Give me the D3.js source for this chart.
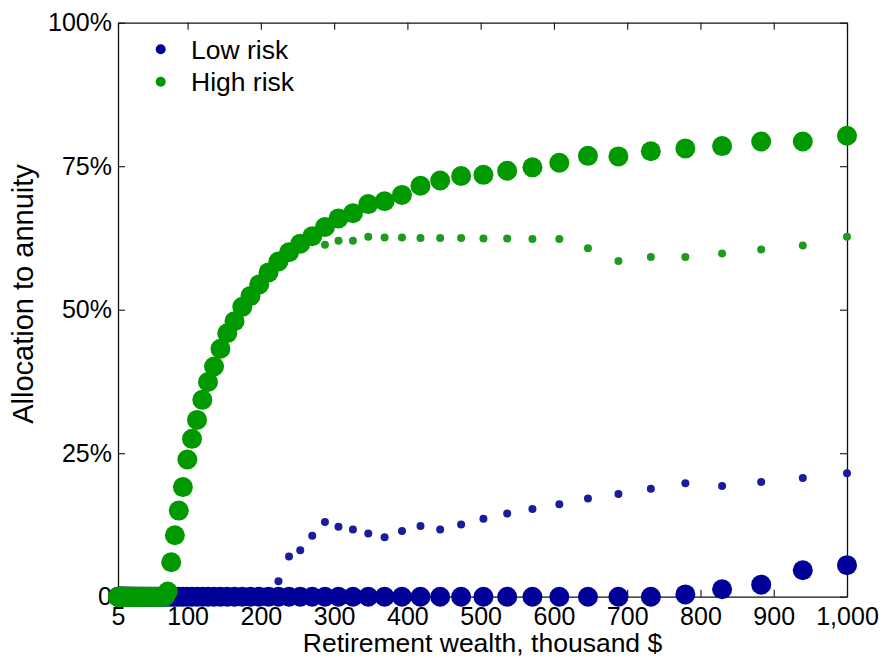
<html>
<head>
<meta charset="utf-8">
<title>Allocation to annuity</title>
<style>
  body { margin: 0; background: #fff; }
  svg text { font-family: "Liberation Sans", Arial, Helvetica, sans-serif; fill: #000; }
</style>
</head>
<body>
<svg id="chart" width="884" height="658"></svg>

<script src="https://d3js.org/d3.v7.min.js"></script>
<script>
// retirement wealth grid, thousand $
const wealth = [
  5.00, 5.32, 5.66, 6.03, 6.41, 6.83, 7.27, 7.73, 8.23, 8.76,
  9.33, 9.93, 10.56, 11.24, 11.97, 12.74, 13.56, 14.43, 15.36, 16.34,
  17.39, 18.51, 19.70, 20.97, 22.32, 23.75, 25.28, 26.91, 28.64, 30.48,
  32.44, 34.53, 36.75, 39.11, 41.63, 44.30, 47.15, 50.19, 53.41, 56.85,
  60.50, 64.39, 68.54, 72.94, 77.64, 82.63, 87.94, 93.60, 99.62, 106.02,
  112.85, 120.10, 127.83, 136.05, 144.80, 154.11, 164.03, 174.58, 185.81, 197.76,
  210.48, 224.02, 238.43, 253.76, 270.09, 287.46, 305.94, 325.62, 346.57, 368.86,
  392.59, 417.84, 444.72, 473.33, 503.77, 536.17, 570.66, 607.36, 646.43, 688.01,
  732.27, 779.38, 829.51, 882.87, 939.66, 1000
];

// allocation to annuity, %  (large markers)
const lowRiskLarge = [
  0, 0, 0, 0, 0, 0, 0, 0, 0, 0,
  0, 0, 0, 0, 0, 0, 0, 0, 0, 0,
  0, 0, 0, 0, 0, 0, 0, 0, 0, 0,
  0, 0, 0, 0, 0, 0, 0, 0, 0, 0,
  0, 0, 0, 0, 0, 0, 0, 0, 0, 0,
  0, 0, 0, 0, 0, 0, 0, 0, 0, 0,
  0, 0, 0, 0, 0, 0, 0, 0, 0, 0,
  0, 0, 0, 0, 0, 0, 0, 0, 0, 0,
  0, 0.4, 1.3, 2.1, 4.6, 5.5
];
const highRiskLarge = [
  0, 0, 0, 0, 0, 0, 0, 0, 0, 0,
  0, 0, 0, 0, 0, 0, 0, 0, 0, 0,
  0, 0, 0, 0, 0, 0, 0, 0, 0, 0,
  0, 0, 0, 0, 0, 0, 0, 0, 0, 0,
  0, 0, 0, 0.9, 6.0, 10.7, 15.0, 19.1, 23.9, 27.5,
  30.8, 34.3, 37.4, 40.1, 43.2, 45.9, 48.0, 50.5, 52.4, 54.4,
  56.5, 58.4, 60.0, 61.5, 62.8, 64.4, 65.9, 66.8, 68.4, 68.9,
  70.0, 71.6, 72.5, 73.3, 73.5, 74.2, 74.8, 75.6, 76.8, 76.7,
  77.6, 78.1, 78.5, 79.3, 79.3, 80.3
];

// allocation to annuity, %  (small markers)
const lowRiskSmall = [
  0, 0, 0, 0, 0, 0, 0, 0, 0, 0,
  0, 0, 0, 0, 0, 0, 0, 0, 0, 0,
  0, 0, 0, 0, 0, 0, 0, 0, 0, 0,
  0, 0, 0, 0, 0, 0, 0, 0, 0, 0,
  0, 0, 0, 0, 0, 0, 0, 0, 0, 0,
  0, 0, 0, 0, 0, 0, 0, 0, 0, 0,
  0, 2.7, 7.0, 8.1, 10.6, 13.0, 12.2, 11.7, 11.0, 10.35,
  11.45, 12.3, 11.7, 12.6, 13.6, 14.5, 15.3, 16.1, 17.1, 17.9,
  18.8, 19.75, 19.3, 20.0, 20.7, 21.5
];
const highRiskSmall = [
  0, 0, 0, 0, 0, 0, 0, 0, 0, 0,
  0, 0, 0, 0, 0, 0, 0, 0, 0, 0,
  0, 0, 0, 0, 0, 0, 0, 0, 0, 0,
  0, 0, 0, 0, 0, 0, 0, 0, 0, 0,
  0, 0, 0, 0.9, 6.0, 10.7, 15.0, 19.1, 23.9, 27.5,
  30.8, 34.3, 37.4, 40.1, 43.2, 45.9, 48.0, 50.5, 52.4, 54.4,
  56.5, 58.4, 60.0, 61.5, 62.8, 61.3, 62.0, 62.0, 62.7, 62.6,
  62.6, 62.5, 62.5, 62.5, 62.4, 62.4, 62.3, 62.3, 60.7, 58.5,
  59.2, 59.2, 59.8, 60.5, 61.2, 62.7
];

const xTicks = [5, 100, 200, 300, 400, 500, 600, 700, 800, 900, 1000];
const yTicks = [0, 25, 50, 75, 100];
const seriesNames = ["Low risk", "High risk"];

const svg = d3.select("#chart");
const plotLeft = 118, plotRight = 847, plotTop = 22.7, plotBottom = 596.7;

const x = d3.scaleLinear().domain([5, 1000]).range([plotLeft, plotRight]);
const y = d3.scaleLinear().domain([0, 100]).range([plotBottom, plotTop]);

const blue = "#000099", blueSmall = "#1b1b9b";
const green = "#009900", greenSmall = "#1e9a1e";

// box + inward ticks
function styleAxis(g, labels) {
  g.select(".domain").attr("stroke", "#111").attr("stroke-width", 1.3);
  g.selectAll(".tick line").attr("stroke", "#111").attr("stroke-width", 1.1);
  if (!labels) g.selectAll(".tick text").remove();
  else g.selectAll(".tick text").attr("font-size", 25).attr("fill", "#000");
}

svg.append("g")
  .attr("transform", `translate(0,${plotBottom})`)
  .call(d3.axisBottom(x).tickValues(xTicks).tickSizeInner(-7).tickSizeOuter(0)
    .tickPadding(11).tickFormat(d3.format(",")))
  .call(g => styleAxis(g, true));

svg.append("g")
  .attr("transform", `translate(0,${plotTop})`)
  .call(d3.axisTop(x).tickValues(xTicks).tickSizeInner(-7).tickSizeOuter(0))
  .call(g => styleAxis(g, false));

svg.append("g")
  .attr("transform", `translate(${plotLeft},0)`)
  .call(d3.axisLeft(y).tickValues(yTicks).tickSizeInner(-7).tickSizeOuter(0)
    .tickPadding(6).tickFormat(d => d === 0 ? "0" : d + "%"))
  .call(g => styleAxis(g, true));

svg.append("g")
  .attr("transform", `translate(${plotRight},0)`)
  .call(d3.axisRight(y).tickValues(yTicks).tickSizeInner(-7).tickSizeOuter(0))
  .call(g => styleAxis(g, false));

// points
function drawDots(values, r, color) {
  svg.append("g")
    .selectAll("circle")
    .data(values.map((v, i) => [wealth[i], v]))
    .join("circle")
    .attr("cx", d => x(d[0]))
    .attr("cy", d => y(d[1]))
    .attr("r", r)
    .attr("fill", color);
}

// small markers underneath so they stay hidden where both series coincide
drawDots(lowRiskSmall, 4, blueSmall);
drawDots(lowRiskLarge, 10, blue);
drawDots(highRiskSmall, 4, greenSmall);
drawDots(highRiskLarge, 10, green);

// legend
const legend = svg.append("g");
[blue, green].forEach((c, i) => {
  legend.append("circle").attr("cx", 160.7).attr("cy", 49.3 + i * 32.4).attr("r", 5).attr("fill", c);
  legend.append("text").attr("x", 191).attr("y", 58.8 + i * 32.4)
    .attr("font-size", 26.5).text(seriesNames[i]);
});

// axis titles
svg.append("text")
  .attr("x", (plotLeft + plotRight) / 2).attr("y", 652)
  .attr("text-anchor", "middle").attr("font-size", 26.5)
  .text("Retirement wealth, thousand $");

svg.append("text")
  .attr("transform", "translate(33,294) rotate(-90)")
  .attr("text-anchor", "middle").attr("font-size", 29)
  .text("Allocation to annuity");
</script>
</body>
</html>
